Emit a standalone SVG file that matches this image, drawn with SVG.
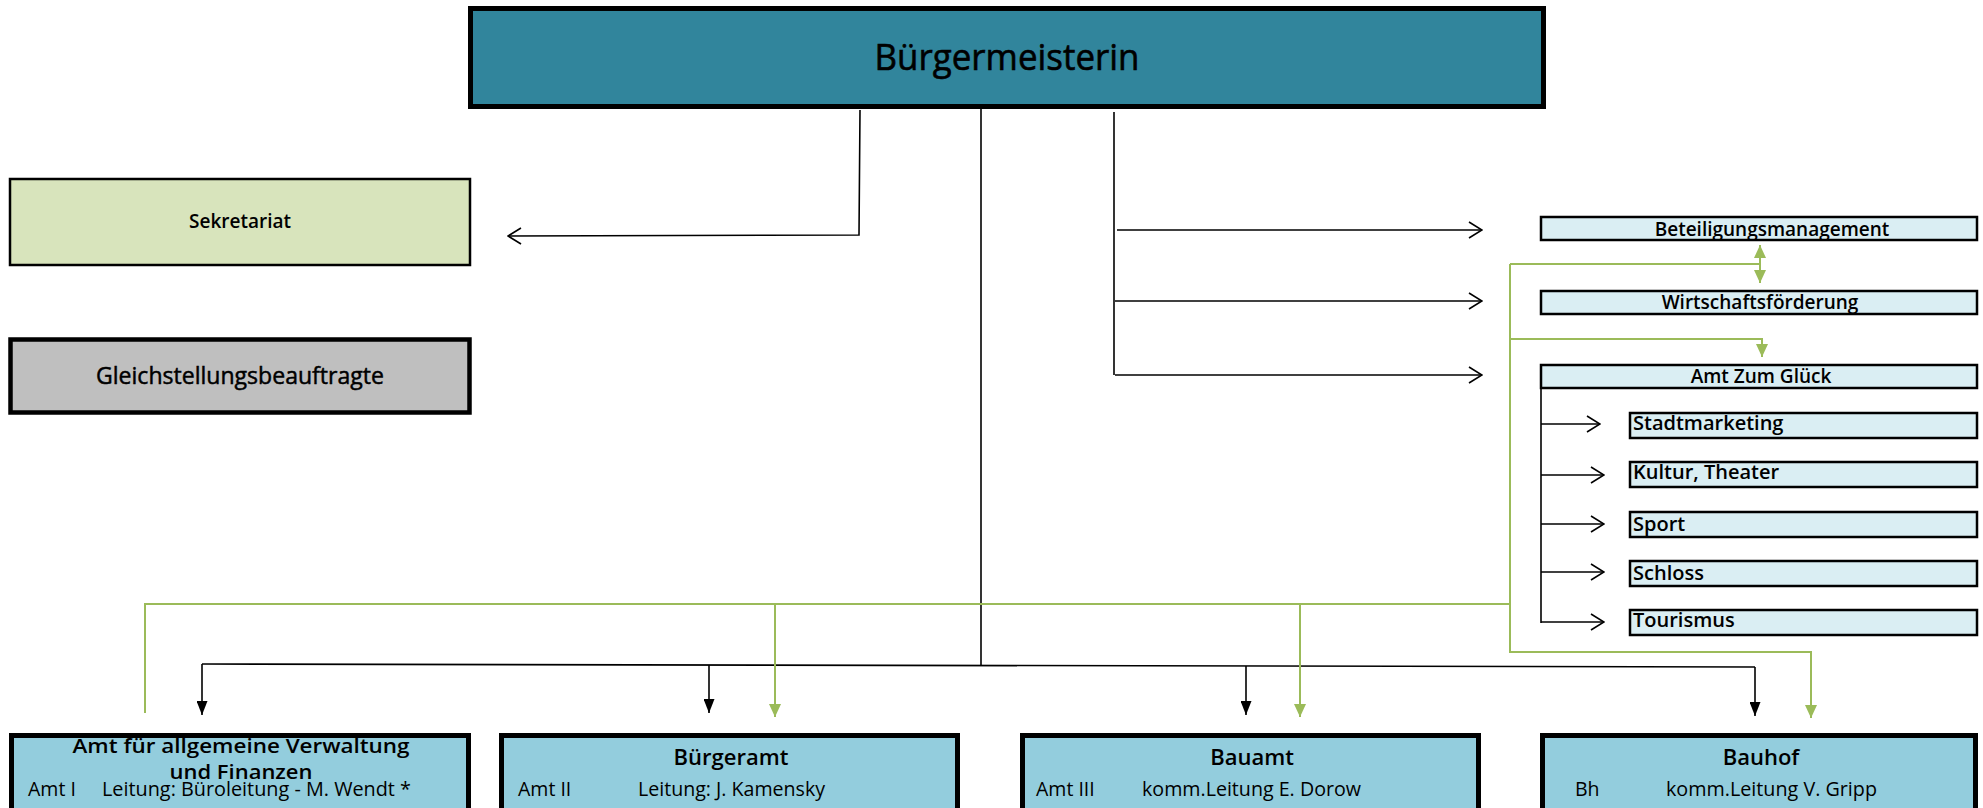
<svg xmlns="http://www.w3.org/2000/svg" width="1983" height="808" viewBox="0 0 1983 808">
<style>
text{font-family:"Open Sans","Noto Sans","Liberation Sans",sans-serif;fill:#000}
.b{font-weight:600}
.c{text-anchor:middle}
.k{fill:none;stroke:#000;stroke-width:1.6}
.g{fill:none;stroke:#9bbb59;stroke-width:2}
.sub{fill:#daeef3;stroke:#000;stroke-width:2.5}
.amt{fill:#93cddd;stroke:#000;stroke-width:5}
.s{font-size:19.5px}
</style>
<defs>
<marker id="open" markerUnits="userSpaceOnUse" viewBox="0 0 15 18" refX="14" refY="9" markerWidth="15" markerHeight="18" orient="auto">
<path d="M1,1 L14,9 L1,17" fill="none" stroke="#000" stroke-width="1.6"/>
</marker>
<marker id="tri" markerUnits="userSpaceOnUse" viewBox="0 0 14 11" refX="14" refY="5.5" markerWidth="14" markerHeight="11" orient="auto">
<path d="M0,0 L14,5.5 L0,11 Z" fill="#000"/>
</marker>
<marker id="gtri" markerUnits="userSpaceOnUse" viewBox="0 0 13 12" refX="13" refY="6" markerWidth="13" markerHeight="12" orient="auto-start-reverse">
<path d="M0,0 L13,6 L0,12 Z" fill="#9bbb59"/>
</marker>
</defs>
<rect width="1983" height="808" fill="#fff"/>

<g id="connectors">
<path class="k" d="M860,110 L859,235 L508,236" marker-end="url(#open)"/>
<path class="k" d="M981,109 V666"/>
<path class="k" d="M202,664 L1755,667"/>
<path class="k" d="M202,664 V715" marker-end="url(#tri)"/>
<path class="k" d="M709,665 V713" marker-end="url(#tri)"/>
<path class="k" d="M1246,666 V715" marker-end="url(#tri)"/>
<path class="k" d="M1755,667 V716" marker-end="url(#tri)"/>
<path class="k" d="M1114,112 V375"/>
<path class="k" d="M1117,230 H1482" marker-end="url(#open)"/>
<path class="k" d="M1115,301 H1482" marker-end="url(#open)"/>
<path class="k" d="M1115,375 H1482" marker-end="url(#open)"/>
<path class="k" d="M1541,389 V623"/>
<path class="k" d="M1541,424 H1600" marker-end="url(#open)"/>
<path class="k" d="M1541,475 H1604" marker-end="url(#open)"/>
<path class="k" d="M1541,524 H1604" marker-end="url(#open)"/>
<path class="k" d="M1541,572 H1604" marker-end="url(#open)"/>
<path class="k" d="M1541,622 H1604" marker-end="url(#open)"/>
<path class="g" d="M145,713 V604 H1511"/>
<path class="g" d="M1510,264 V652 H1811 V718" marker-end="url(#gtri)"/>
<path class="g" d="M1510,264 H1760"/>
<path class="g" d="M1760,245 V283" marker-start="url(#gtri)" marker-end="url(#gtri)"/>
<path class="g" d="M1510,339 H1762 V357" marker-end="url(#gtri)"/>
<path class="g" d="M775,604 V717" marker-end="url(#gtri)"/>
<path class="g" d="M1300,604 V717" marker-end="url(#gtri)"/>
</g>

<g id="buergermeisterin">
<rect x="470.5" y="8.5" width="1073" height="98" fill="#31859c" stroke="#000" stroke-width="5"/>
<text x="1007" y="70" class="c" font-size="37" textLength="265" lengthAdjust="spacingAndGlyphs" stroke="#000" stroke-width="0.6">Bürgermeisterin</text>
</g>
<g id="sekretariat">
<rect x="10" y="179" width="460" height="86" fill="#d8e4bc" stroke="#000" stroke-width="2.5"/>
<text x="240" y="228" class="c b" font-size="20" textLength="102" lengthAdjust="spacingAndGlyphs">Sekretariat</text>
</g>
<g id="gleichstellung">
<rect x="10.5" y="339.5" width="459" height="73" fill="#bfbfbf" stroke="#000" stroke-width="4.5"/>
<text x="240" y="384" class="c" font-size="24" textLength="288" lengthAdjust="spacingAndGlyphs" stroke="#000" stroke-width="0.5">Gleichstellungsbeauftragte</text>
</g>
<g id="beteiligung">
<rect class="sub" x="1541" y="217" width="436" height="23"/>
<text x="1772" y="236" class="c b" font-size="19">Beteiligungsmanagement</text>
</g>
<g id="wirtschaft">
<rect class="sub" x="1541" y="291" width="436" height="23"/>
<text x="1760" y="309" class="c b" font-size="19">Wirtschaftsförderung</text>
</g>
<g id="amtglueck">
<rect class="sub" x="1541" y="365" width="436" height="23"/>
<text x="1761" y="383" class="c b" font-size="19">Amt Zum Glück</text>
</g>
<g id="stadtmarketing">
<rect class="sub" x="1630" y="413" width="347" height="25"/>
<text x="1633" y="430" class="b" font-size="20">Stadtmarketing</text>
</g>
<g id="kultur">
<rect class="sub" x="1630" y="462" width="347" height="25"/>
<text x="1633" y="479" class="b" font-size="20">Kultur, Theater</text>
</g>
<g id="sport">
<rect class="sub" x="1630" y="512" width="347" height="25"/>
<text x="1633" y="531" class="b" font-size="20">Sport</text>
</g>
<g id="schloss">
<rect class="sub" x="1630" y="561" width="347" height="25"/>
<text x="1633" y="580" class="b" font-size="20">Schloss</text>
</g>
<g id="tourismus">
<rect class="sub" x="1630" y="610" width="347" height="25"/>
<text x="1633" y="627" class="b" font-size="20">Tourismus</text>
</g>

<g id="amt1">
<rect class="amt" x="11.5" y="735.5" width="457" height="85"/>
<text x="241" y="753" class="c b" font-size="20.5" textLength="337" lengthAdjust="spacingAndGlyphs">Amt für allgemeine Verwaltung</text>
<text x="241" y="779" class="c b" font-size="20.5" textLength="143" lengthAdjust="spacingAndGlyphs">und Finanzen</text>
<text x="28" y="796" class="s">Amt I</text>
<text x="102" y="796" class="s" textLength="309" lengthAdjust="spacingAndGlyphs">Leitung: Büroleitung - M. Wendt *</text>
</g>
<g id="amt2">
<rect class="amt" x="501.5" y="735.5" width="456" height="85"/>
<text x="731" y="765" class="c b" font-size="22">Bürgeramt</text>
<text x="518" y="796" class="s">Amt II</text>
<text x="638" y="796" class="s" textLength="187" lengthAdjust="spacingAndGlyphs">Leitung: J. Kamensky</text>
</g>
<g id="amt3">
<rect class="amt" x="1022.5" y="735.5" width="456" height="85"/>
<text x="1252" y="765" class="c b" font-size="22">Bauamt</text>
<text x="1036" y="796" class="s">Amt III</text>
<text x="1142" y="796" class="s" textLength="219" lengthAdjust="spacingAndGlyphs">komm.Leitung E. Dorow</text>
</g>
<g id="bauhof">
<rect class="amt" x="1542.5" y="735.5" width="433" height="85"/>
<text x="1761" y="765" class="c b" font-size="22">Bauhof</text>
<text x="1575" y="796" class="s">Bh</text>
<text x="1666" y="796" class="s" textLength="211" lengthAdjust="spacingAndGlyphs">komm.Leitung V. Gripp</text>
</g>
</svg>
